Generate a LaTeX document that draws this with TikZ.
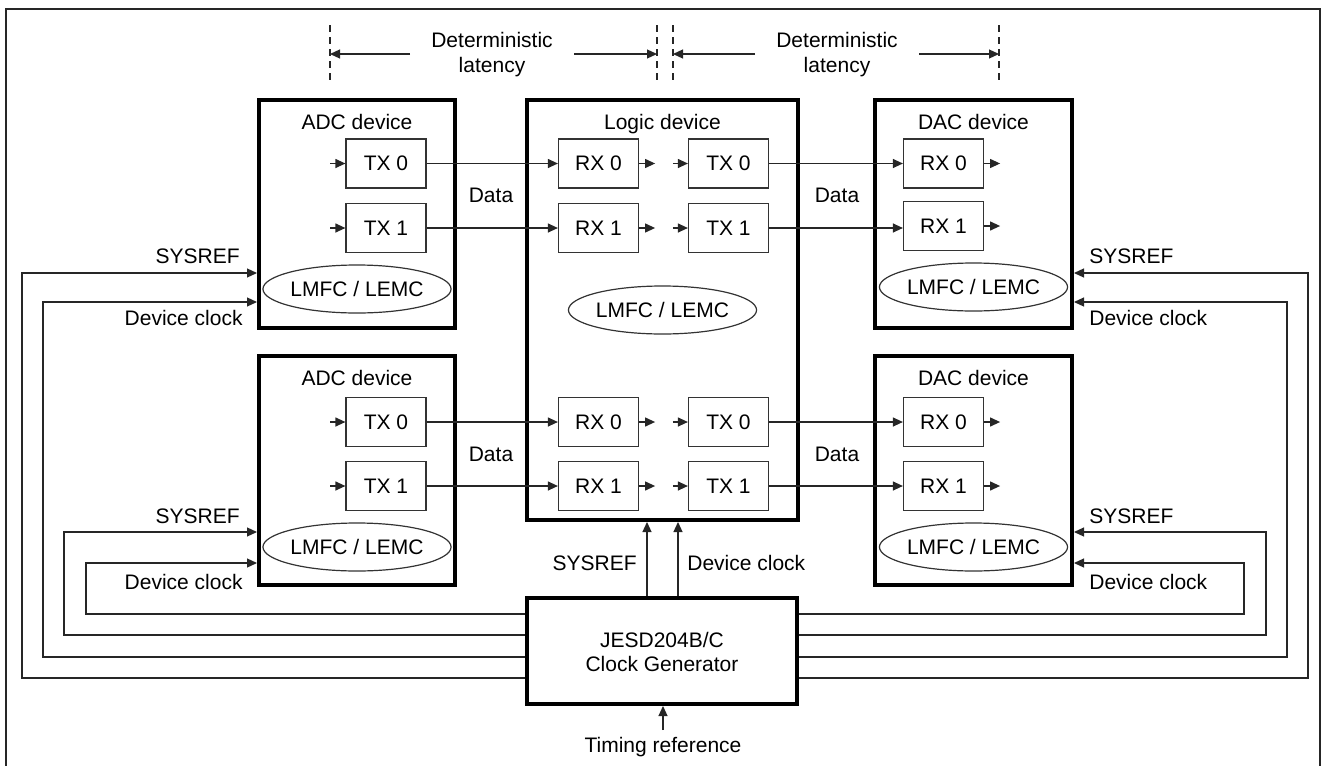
\documentclass[tikz,border=0pt]{standalone}
\usepackage{fontspec}
\setmainfont{Liberation Sans}
\usetikzlibrary{arrows.meta,shapes.geometric}
\begin{document}
\begin{tikzpicture}[x=0.5pt,y=-0.5pt,
  every node/.style={font=\fontsize{10.5}{12.6}\selectfont, inner sep=0pt},
  dev/.style={draw=black, line width=2pt, rectangle},
  port/.style={draw=black!80, line width=0.6pt, rectangle, minimum width=40pt, minimum height=24.5pt},
  lm/.style={draw=black!80, line width=0.6pt, ellipse, minimum width=85.5pt, minimum height=24pt},
  arr/.style={draw=black!85, line width=0.6pt, -{Triangle[length=5pt,width=4.5pt]}},
  wire/.style={draw=black!85, line width=0.6pt},
  dashline/.style={draw=black!85, line width=0.6pt, dash pattern=on 3.5pt off 2.5pt},
  lbl/.style={anchor=base}]
\useasboundingbox (0,0) rectangle (1324,766);
% outer frame
\draw[wire] (6,780) -- (6,9) -- (1320,9) -- (1320,780);

% devices
\node[dev, minimum width=98pt, minimum height=114pt] (adc1) at (357,214) {};
\node[dev, minimum width=98pt, minimum height=114.5pt] (adc2) at (357,470.5) {};
\node[dev, minimum width=135.5pt, minimum height=210pt] (logic) at (662.5,310) {};
\node[dev, minimum width=98.5pt, minimum height=114pt] (dac1) at (973.5,214) {};
\node[dev, minimum width=98.5pt, minimum height=114.5pt] (dac2) at (973.5,470.5) {};
\node[dev, minimum width=135pt, minimum height=53pt] (gen) at (662,651) {};

% device titles
\node[lbl] (tadc1) at (357,129) {ADC device};
\node[lbl] (tadc2) at (357,385) {ADC device};
\node[lbl] (tlog) at (662.5,129) {Logic device};
\node[lbl] (tdac1) at (973.5,129) {DAC device};
\node[lbl] (tdac2) at (973.5,385) {DAC device};
\node[lbl] (tgen1) at (662,647) {JESD204B/C};
\node[lbl] (tgen2) at (662,671) {Clock Generator};

% ports
\node[port] (a1t0) at (386,163.5) {TX 0};
\node[port] (a1t1) at (386,228) {TX 1};
\node[port] (a2t0) at (386,422) {TX 0};
\node[port] (a2t1) at (386,486) {TX 1};
\node[port] (lr0) at (598.5,163.5) {RX 0};
\node[port] (lr1) at (598.5,228) {RX 1};
\node[port] (lt0) at (728.5,163.5) {TX 0};
\node[port] (lt1) at (728.5,228) {TX 1};
\node[port] (lr2) at (598.5,422) {RX 0};
\node[port] (lr3) at (598.5,486) {RX 1};
\node[port] (lt2) at (728.5,422) {TX 0};
\node[port] (lt3) at (728.5,486) {TX 1};
\node[port] (d1r0) at (943.5,163.5) {RX 0};
\node[port] (d1r1) at (943.5,226) {RX 1};
\node[port] (d2r0) at (943.5,422) {RX 0};
\node[port] (d2r1) at (943.5,486) {RX 1};

% LMFC ellipses
\node[lm] (e1) at (357,289) {LMFC / LEMC};
\node[lm] (e2) at (662.5,310) {LMFC / LEMC};
\node[lm] (e3) at (973.5,287) {LMFC / LEMC};
\node[lm] (e4) at (357,547) {LMFC / LEMC};
\node[lm] (e5) at (973.5,547) {LMFC / LEMC};

% data links
\draw[arr] (a1t0.east) -- (lr0.west);
\draw[arr] (a1t1.east) -- (lr1.west);
\draw[arr] (a2t0.east) -- (lr2.west);
\draw[arr] (a2t1.east) -- (lr3.west);
\draw[arr] (lt0.east) -- (d1r0.west);
\draw[arr] (lt1.east) -- (lt1.east -| d1r1.west);
\draw[arr] (lt2.east) -- (d2r0.west);
\draw[arr] (lt3.east) -- (d2r1.west);
\node[lbl] (dat1) at (491,202) {Data};
\node[lbl] (dat2) at (837,202) {Data};
\node[lbl] (dat3) at (491,461) {Data};
\node[lbl] (dat4) at (837,461) {Data};

% short internal arrows
\foreach \p in {a1t0,a1t1,a2t0,a2t1,lt0,lt1,lt2,lt3}
  \draw[arr] ([xshift=-7.5pt]\p.west) -- (\p.west);
\foreach \p in {lr0,lr1,lr2,lr3,d1r0,d1r1,d2r0,d2r1}
  \draw[arr] (\p.east) -- ([xshift=8pt]\p.east);

% deterministic latency
\draw[dashline] (330,25) -- (330,82);
\draw[dashline] (657,25) -- (657,82);
\draw[dashline] (673,25) -- (673,82);
\draw[dashline] (999,25) -- (999,82);
\coordinate (dl1) at (330,54);
\coordinate (dl2) at (657,54);
\coordinate (dl3) at (673,54);
\coordinate (dl4) at (999,54);
\node[lbl] (lat1a) at (492,47) {Deterministic};
\node[lbl] (lat1b) at (492,72) {latency};
\node[lbl] (lat2a) at (837,47) {Deterministic};
\node[lbl] (lat2b) at (837,72) {latency};
\draw[arr] (410,54) -- (dl1);
\draw[arr] (574,54) -- (dl2);
\draw[arr] (755,54) -- (dl3);
\draw[arr] (919,54) -- (dl4);

% clock distribution left
\draw[arr] (gen.west |- 0,678) -- (22,678) -- (22,273) -- (adc1.west |- 0,273);
\draw[arr] (gen.west |- 0,657) -- (43,657) -- (43,302) -- (adc1.west |- 0,302);
\draw[arr] (gen.west |- 0,635) -- (64,635) -- (64,532) -- (adc2.west |- 0,532);
\draw[arr] (gen.west |- 0,614) -- (86,614) -- (86,563) -- (adc2.west |- 0,563);
% clock distribution right
\draw[arr] (gen.east |- 0,678) -- (1308,678) -- (1308,273) -- (dac1.east |- 0,273);
\draw[arr] (gen.east |- 0,657) -- (1287,657) -- (1287,302) -- (dac1.east |- 0,302);
\draw[arr] (gen.east |- 0,635) -- (1266,635) -- (1266,532) -- (dac2.east |- 0,532);
\draw[arr] (gen.east |- 0,614) -- (1244,614) -- (1244,563) -- (dac2.east |- 0,563);
% to logic
\draw[arr] (gen.north -| 647,0) -- (logic.south -| 647,0);
\draw[arr] (gen.north -| 678,0) -- (logic.south -| 678,0);
% timing reference
\node[lbl] (tref) at (663,752) {Timing reference};
\draw[arr] (663,730) -- (gen.south -| 663,0);

% clock labels
\node[anchor=base east] (sl1) at (240,263) {SYSREF};
\node[anchor=base east] (cl1) at (243,325) {Device clock};
\node[anchor=base east] (sl2) at (240,523) {SYSREF};
\node[anchor=base east] (cl2) at (243,589) {Device clock};
\node[anchor=base west] (sr1) at (1089,263) {SYSREF};
\node[anchor=base west] (cr1) at (1089,325) {Device clock};
\node[anchor=base west] (sr2) at (1089,523) {SYSREF};
\node[anchor=base west] (cr2) at (1089,589) {Device clock};
\node[anchor=base east] (sg) at (637,570) {SYSREF};
\node[anchor=base west] (cg) at (687,570) {Device clock};
\end{tikzpicture}
\end{document}
